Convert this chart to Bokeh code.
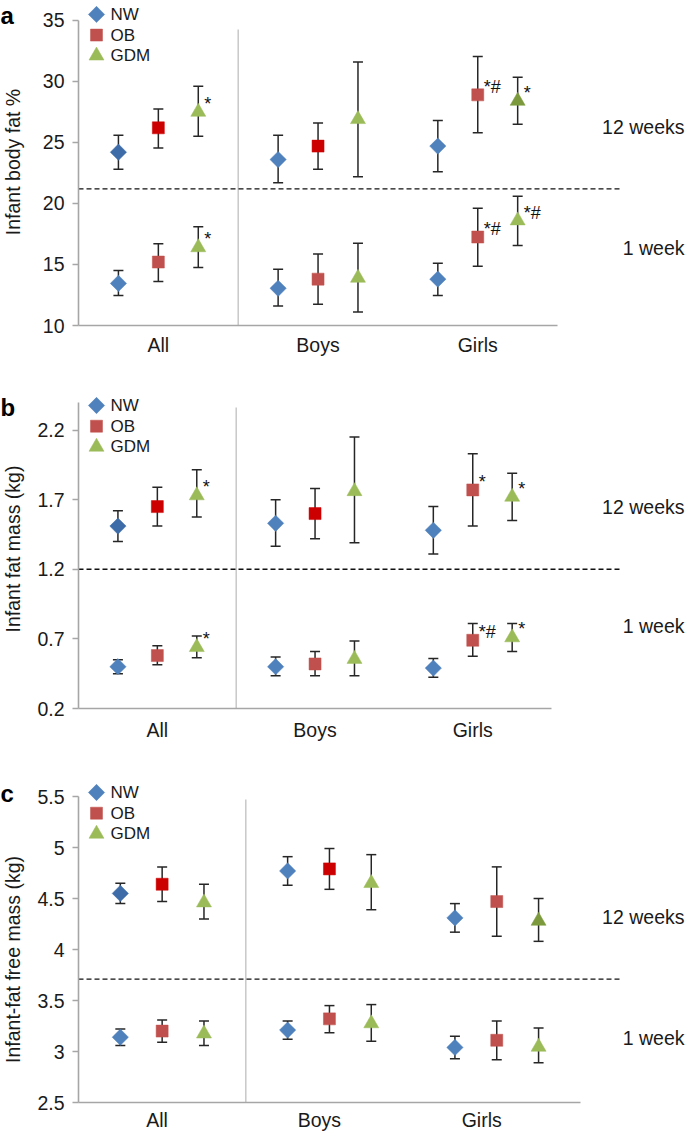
import numpy as np
from bokeh.plotting import figure
from bokeh.layouts import column, row
from bokeh.models import Range1d, FixedTicker, CustomJSTickFormatter
from bokeh.core.properties import value
from bokeh.embed import file_html
from bokeh.resources import INLINE

groups = ["All", "Boys", "Girls"]
series = ["NW", "OB", "GDM"]
periods = ["12 weeks", "1 week"]
panel_letters = ["a", "b", "c"]
y_titles = ["Infant body fat %", "Infant fat mass (kg)", "Infant-fat free mass (kg)"]

# ---------------- panel a: infant body fat %
a_12_mean = {"NW": [24.2, 23.6, 24.7], "OB": [26.2, 24.7, 28.9], "GDM": [27.5, 26.9, 28.4]}
a_12_lo = {"NW": [22.8, 21.7, 22.6], "OB": [24.55, 22.8, 25.8], "GDM": [25.5, 22.2, 26.5]}
a_12_hi = {"NW": [25.6, 25.6, 26.8], "OB": [27.75, 26.6, 32.05], "GDM": [29.6, 31.6, 30.35]}
a_1_mean = {"NW": [13.45, 13.05, 13.8], "OB": [15.2, 13.8, 17.25], "GDM": [16.4, 13.9, 18.6]}
a_1_lo = {"NW": [12.45, 11.6, 12.45], "OB": [13.6, 11.75, 14.85], "GDM": [14.75, 11.1, 16.55]}
a_1_hi = {"NW": [14.5, 14.6, 15.1], "OB": [16.7, 15.85, 19.6], "GDM": [18.1, 16.75, 20.6]}
a_sig = [("12 weeks", "GDM", 0, "*"), ("12 weeks", "OB", 2, "*#"), ("12 weeks", "GDM", 2, "*"),
         ("1 week", "GDM", 0, "*"), ("1 week", "OB", 2, "*#"), ("1 week", "GDM", 2, "*#")]
a_yticks = [10, 15, 20, 25, 30, 35]
a_split = 21.2

# ---------------- panel b: infant fat mass (kg)
b_12_mean = {"NW": [1.51, 1.53, 1.48], "OB": [1.65, 1.60, 1.77], "GDM": [1.73, 1.76, 1.72]}
b_12_lo = {"NW": [1.40, 1.365, 1.31], "OB": [1.51, 1.42, 1.51], "GDM": [1.575, 1.39, 1.55]}
b_12_hi = {"NW": [1.62, 1.70, 1.65], "OB": [1.79, 1.78, 2.03], "GDM": [1.915, 2.15, 1.89]}
b_1_mean = {"NW": [0.50, 0.50, 0.49], "OB": [0.58, 0.52, 0.69], "GDM": [0.64, 0.555, 0.71]}
b_1_lo = {"NW": [0.45, 0.435, 0.425], "OB": [0.515, 0.435, 0.575], "GDM": [0.565, 0.435, 0.61]}
b_1_hi = {"NW": [0.55, 0.57, 0.56], "OB": [0.65, 0.61, 0.81], "GDM": [0.72, 0.685, 0.81]}
b_sig = [("12 weeks", "GDM", 0, "*"), ("12 weeks", "OB", 2, "*"), ("12 weeks", "GDM", 2, "*"),
         ("1 week", "GDM", 0, "*"), ("1 week", "OB", 2, "*#"), ("1 week", "GDM", 2, "*")]
b_yticks = [0.2, 0.7, 1.2, 1.7, 2.2]
b_split = 1.2

# ---------------- panel c: infant fat-free mass (kg)
c_12_mean = {"NW": [4.55, 4.77, 4.31], "OB": [4.64, 4.79, 4.47], "GDM": [4.46, 4.65, 4.28]}
c_12_lo = {"NW": [4.45, 4.63, 4.17], "OB": [4.47, 4.59, 4.13], "GDM": [4.30, 4.39, 4.08]}
c_12_hi = {"NW": [4.65, 4.91, 4.45], "OB": [4.81, 4.99, 4.81], "GDM": [4.64, 4.93, 4.50]}
c_1_mean = {"NW": [3.14, 3.21, 3.04], "OB": [3.20, 3.32, 3.11], "GDM": [3.175, 3.275, 3.045]}
c_1_lo = {"NW": [3.06, 3.12, 2.93], "OB": [3.09, 3.185, 2.92], "GDM": [3.06, 3.10, 2.89]}
c_1_hi = {"NW": [3.22, 3.30, 3.15], "OB": [3.31, 3.45, 3.30], "GDM": [3.30, 3.46, 3.23]}
c_sig = []
c_yticks = [2.5, 3, 3.5, 4, 4.5, 5, 5.5]
c_split = 3.71

# ---------------- styles / layout
FONT = "Liberation Sans"
BASE = {"NW": "#4F81BD", "OB": "#C0504D", "GDM": "#9BBB59"}
DARK_NW, BRIGHT_OB, DARK_GDM = "#3D6CA8", "#CC0000", "#7C9A3D"
a_12_colors = {"NW": [DARK_NW, None, None], "OB": [BRIGHT_OB, BRIGHT_OB, None], "GDM": [None, None, DARK_GDM]}
b_12_colors = {"NW": [DARK_NW, None, None], "OB": [BRIGHT_OB, BRIGHT_OB, None], "GDM": [None, None, None]}
c_12_colors = {"NW": [DARK_NW, None, None], "OB": [BRIGHT_OB, BRIGHT_OB, None], "GDM": [None, None, DARK_GDM]}
OFFSET = {"NW": -0.25, "OB": 0.0, "GDM": 0.25}
MARKER = {"NW": dict(marker="square", angle=np.pi / 4, size=11.5),
          "OB": dict(marker="square", angle=0.0, size=12),
          "GDM": dict(marker="triangle", angle=0.0, size=15)}
ERR = "#262626"
AXIS = "#A6A6A6"
TXT = "#1a1a1a"
TOTAL_W, TOTAL_H = 685, 1133
STRIP = 30                 # left strip holding panel letters and y titles
W = TOTAL_W - STRIP
LEFT = 78 - STRIP
FW = W - LEFT


def build(ymin, ymax, yticks, ppu, H, bb, axis_top, stats, colors12, sig, split, cat_pos, lay):
    fh = H - bb
    ypu = (fh - axis_top) / (ymax - ymin)
    y_end = ymin + fh / ypu
    X = lambda px: 0.5 + px / ppu          # px from frame left
    Y = lambda px: y_end - px / ypu        # px from frame top

    p = figure(width=W, height=H, x_range=Range1d(0.5, 0.5 + FW / ppu),
               y_range=Range1d(ymin, y_end), output_backend="svg", toolbar_location=None,
               min_border_left=LEFT, min_border_right=0, min_border_top=0,
               min_border_bottom=bb, title=None)
    p.outline_line_color = None
    p.xgrid.grid_line_color = None
    p.ygrid.grid_line_color = None
    p.background_fill_color = "white"
    p.border_fill_color = "white"

    for ax in (p.xaxis[0], p.yaxis[0]):
        ax.axis_line_color = AXIS
        ax.axis_line_width = 1.6
        ax.major_tick_line_color = AXIS
        ax.major_tick_line_width = 1.6
        ax.minor_tick_line_color = None
        ax.major_label_text_font = FONT
        ax.major_label_text_font_size = "19.5px"
        ax.major_label_text_color = TXT
    xa = p.xaxis[0]
    xa.bounds = (0.5, 3.5)
    xa.ticker = FixedTicker(ticks=cat_pos)
    xa.formatter = CustomJSTickFormatter(args=dict(labels=groups), code="return labels[index]")
    xa.major_tick_line_color = None
    xa.major_tick_out = 0
    xa.major_tick_in = 0
    xa.major_label_standoff = lay["xstd"]
    ya = p.yaxis[0]
    ya.bounds = (ymin, ymax)
    ya.ticker = FixedTicker(ticks=yticks)
    ya.formatter = CustomJSTickFormatter(code="return String(Math.round(tick*100)/100)")
    ya.major_tick_out = 6
    ya.major_tick_in = 0
    ya.major_label_standoff = 8

    # vertical divider and horizontal dashed split
    p.segment(x0=[1.5], y0=[ymin], x1=[1.5], y1=[Y(lay["div_top"])], line_color="#C8C8C8", line_width=1.5)
    p.segment(x0=[0.5], y0=[split], x1=[X(lay["dash_end"])], y1=[split], line_color="#111111",
              line_width=1.3, line_dash="5 3")

    # data: error bars then markers
    for period, (mean, lo, hi) in zip(periods, stats):
        for s in series:
            xs = [i + 1 + OFFSET[s] for i in range(len(groups))]
            p.segment(x0=xs, y0=lo[s], x1=xs, y1=hi[s], line_color=ERR, line_width=1.5)
            p.scatter(x=xs + xs, y=lo[s] + hi[s], marker="dash", size=10, line_color=ERR, line_width=1.5)
        for s in series:
            xs = [i + 1 + OFFSET[s] for i in range(len(groups))]
            if period == "12 weeks":
                cols = [c if c else BASE[s] for c in colors12[s]]
            else:
                cols = [BASE[s]] * len(groups)
            p.scatter(x=xs, y=mean[s], fill_color=cols, line_color=cols, line_width=0.5, **MARKER[s])

    # significance marks
    if sig:
        sx, sy, st = [], [], []
        for period, s, gi, t in sig:
            mean = stats[periods.index(period)][0]
            sx.append(gi + 1 + OFFSET[s])
            sy.append(mean[s][gi])
            st.append(t)
        p.text(x=sx, y=sy, text=st, x_offset=6, y_offset=-8, text_font=value(FONT),
               text_font_size="18px", text_baseline="middle", text_align="left", text_color="#111111")

    # legend
    for k, s in enumerate(series):
        ly = Y(lay["leg_top"] + 20.7 * k)
        p.scatter(x=[X(18)], y=[ly], fill_color=BASE[s], line_color=BASE[s], line_width=0.5, **MARKER[s])
        p.text(x=[X(32)], y=[ly], text=[s], text_font=value(FONT), text_font_size="17px",
               text_baseline="middle", text_align="left", text_color=TXT)

    # period labels on the right
    p.text(x=[X(FW - 1)] * 2, y=[Y(lay["lab12"]), Y(lay["lab1"])], text=periods,
           text_font=value(FONT), text_font_size="19.5px", text_baseline="middle",
           text_align="right", text_color=TXT)
    return p


pa = build(10, 35, a_yticks, 159.7, 358, 32, 20,
           [(a_12_mean, a_12_lo, a_12_hi), (a_1_mean, a_1_lo, a_1_hi)], a_12_colors, a_sig,
           a_split, [1, 2, 3],
           dict(xstd=8, div_top=29, dash_end=542, leg_top=14, lab12=127, lab1=248))
pb = build(0.2, 2.4, b_yticks, 157.7, 400, 50, 43.7,
           [(b_12_mean, b_12_lo, b_12_hi), (b_1_mean, b_1_lo, b_1_hi)], b_12_colors, b_sig,
           b_split, [1, 2, 3],
           dict(xstd=10, div_top=49, dash_end=542, leg_top=47, lab12=148, lab1=267))
pc = build(2.5, 5.5, c_yticks, 167.3, 375, 31, 38,
           [(c_12_mean, c_12_lo, c_12_hi), (c_1_mean, c_1_lo, c_1_hi)], c_12_colors, c_sig,
           c_split, [0.97, 1.94, 2.91],
           dict(xstd=6, div_top=41, dash_end=544, leg_top=34, lab12=158, lab1=279))

# left strip: panel letters and y-axis titles (pixel coordinates, y measured from the top)
strip = figure(width=STRIP, height=TOTAL_H, x_range=Range1d(0, STRIP), y_range=Range1d(0, TOTAL_H),
               output_backend="svg", toolbar_location=None, min_border=0,
               x_axis_location=None, y_axis_location=None, title=None)
strip.outline_line_color = None
strip.xgrid.grid_line_color = None
strip.ygrid.grid_line_color = None
strip.background_fill_color = "white"
strip.border_fill_color = "white"
letter_px = [(0, 15), (0, 407), (0, 793)]
title_px = [(12, 161.5), (12.5, 548.5), (12, 959)]
strip.text(x=[p_[0] for p_ in letter_px], y=[TOTAL_H - p_[1] for p_ in letter_px], text=panel_letters,
           text_font=value(FONT), text_font_size="24px", text_font_style="bold",
           text_baseline="alphabetic", text_align="left", text_color="#000000")
strip.text(x=[p_[0] for p_ in title_px], y=[TOTAL_H - p_[1] for p_ in title_px], text=y_titles,
           angle=np.pi / 2, text_font=value(FONT), text_font_size="19.5px",
           text_baseline="middle", text_align="center", text_color=TXT)

layout = row(strip, column(pa, pb, pc))
open("out.html", "w").write(file_html(layout, INLINE))
